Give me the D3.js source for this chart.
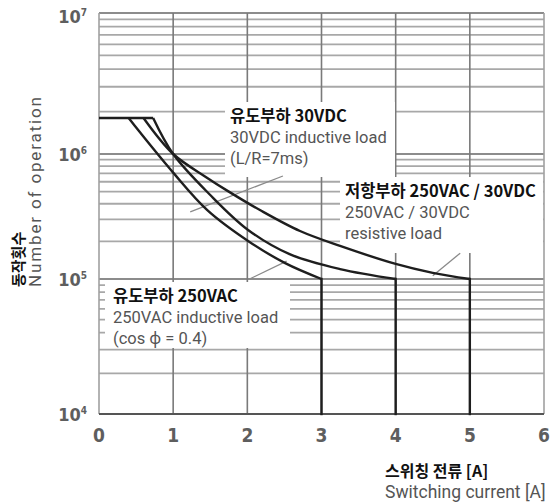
<!DOCTYPE html>
<html>
<head>
<meta charset="utf-8">
<script src="https://cdn.jsdelivr.net/npm/d3@7"></script>
<style>
  body { margin: 0; background: #fff; }
  svg { display: block; }
</style>
</head>
<body>
<div id="chart"></div>
<script>
// x ticks (switching current, A)
const xTicks = [0, 1, 2, 3, 4, 5, 6];
// y decades (number of operations)
const yDecades = [1e4, 1e5, 1e6, 1e7];
const yExponents = ["4", "5", "6", "7"];

// plateau at the top-left, shared by all three curves
const plateauX = [0, 0.73];
const plateauN = 1.8e6;

// 250VAC inductive load (cos phi = 0.4)
const ac250X = [0.4, 0.55, 1.0, 1.46, 2.03, 2.51, 3.0];
const ac250N = [1.8e6, 1.43e6, 7.1e5, 3.56e5, 1.98e5, 1.34e5, 1.0e5];

// 30VDC inductive load (L/R = 7ms)
const dc30X = [0.73, 1.0, 1.5, 2.01, 2.57, 3.25, 4.0];
const dc30N = [1.8e6, 1.0e6, 4.7e5, 2.47e5, 1.58e5, 1.2e5, 1.0e5];

// 250VAC / 30VDC resistive load
const resX = [0.6, 1.0, 1.45, 1.75, 2.17, 2.71, 3.25, 4.0, 4.5, 5.0];
const resN = [1.8e6, 1.0e6, 6.5e5, 5.0e5, 3.56e5, 2.42e5, 1.84e5, 1.32e5, 1.12e5, 1.0e5];

const minN = 1e4;

// leader lines from the labels to the curves, [x, N] pairs
const leaders = [
  [[1.23, 3.44e5], [2.48, 6.67e5]],
  [[2.03, 1.0e5], [2.53, 1.39e5]],
  [[4.5, 1.06e5], [4.87, 1.61e5]],
];

const width = 551;
const height = 503;

const svg = d3.select("#chart").append("svg")
  .attr("width", width)
  .attr("height", height);

const x = d3.scaleLinear().domain([0, 6]).range([99, 544]);
const y = d3.scaleLog().domain(yDecades).range([414, 279, 154, 13]);

// horizontal grid: decades and minor lines 2..9
const minor = [];
yDecades.slice(0, 3).forEach((d) => {
  for (let k = 2; k <= 9; k++) minor.push(d * k);
});

const grid = svg.append("g");

grid.selectAll(".hminor")
  .data(minor)
  .enter()
  .append("line")
  .attr("x1", x(0))
  .attr("x2", x(6))
  .attr("y1", (d) => y(d))
  .attr("y2", (d) => y(d))
  .attr("stroke", "#a8a8a8")
  .attr("stroke-width", 1.8);

grid.selectAll(".hmajor")
  .data(yDecades)
  .enter()
  .append("line")
  .attr("x1", x(0))
  .attr("x2", x(6))
  .attr("y1", (d) => y(d))
  .attr("y2", (d) => y(d))
  .attr("stroke", "#8c8c8c")
  .attr("stroke-width", 1.8);

grid.selectAll(".vline")
  .data(xTicks)
  .enter()
  .append("line")
  .attr("x1", (d) => x(d))
  .attr("x2", (d) => x(d))
  .attr("y1", y(1e7))
  .attr("y2", y(1e4))
  .attr("stroke", (d) => (d === 0 || d === 6 ? "#a0a0a0" : "#7a7a7a"))
  .attr("stroke-width", 1.6);

// bottom axis line
grid.append("line")
  .attr("x1", x(0))
  .attr("x2", x(6))
  .attr("y1", y(1e4))
  .attr("y2", y(1e4))
  .attr("stroke", "#555")
  .attr("stroke-width", 2);

// white label boxes that hide the grid
const boxes = [
  { x: 225, y: 102, w: 170, h: 75 },
  { x: 340, y: 177, w: 203, h: 76 },
  { x: 105, y: 282, w: 185, h: 66 },
];
svg.selectAll(".box")
  .data(boxes)
  .enter()
  .append("rect")
  .attr("x", (d) => d.x)
  .attr("y", (d) => d.y)
  .attr("width", (d) => d.w)
  .attr("height", (d) => d.h)
  .attr("fill", "#fff");

// leader lines
svg.selectAll(".leader")
  .data(leaders)
  .enter()
  .append("line")
  .attr("x1", (d) => x(d[0][0]))
  .attr("y1", (d) => y(d[0][1]))
  .attr("x2", (d) => x(d[1][0]))
  .attr("y2", (d) => y(d[1][1]))
  .attr("stroke", "#8a8a8a")
  .attr("stroke-width", 1.3);

// curves
const line = d3.line()
  .x((d) => x(d[0]))
  .y((d) => y(d[1]))
  .curve(d3.curveCatmullRom.alpha(0.5));

const curves = [
  d3.zip(ac250X, ac250N),
  d3.zip(dc30X, dc30N),
  d3.zip(resX, resN),
];

const curveG = svg.append("g")
  .attr("fill", "none")
  .attr("stroke", "#1e1e1e")
  .attr("stroke-width", 2.4);

curveG.append("path")
  .attr("d", d3.line()([[x(plateauX[0]), y(plateauN)], [x(plateauX[1]), y(plateauN)]]));

curves.forEach((c) => {
  curveG.append("path").attr("d", line(c));
  const last = c[c.length - 1];
  curveG.append("path")
    .attr("stroke-linecap", "square")
    .attr("d", d3.line()([[x(last[0]), y(last[1])], [x(last[0]), y(minN)]]));
});

// x tick labels
svg.selectAll(".xt")
  .data(xTicks)
  .enter()
  .append("text")
  .attr("x", (d) => x(d))
  .attr("y", 442)
  .attr("text-anchor", "middle")
  .attr("font-family", "'DejaVu Sans Condensed', 'DejaVu Sans', sans-serif")
  .attr("font-stretch", "condensed")
  .attr("font-weight", "bold")
  .attr("font-size", 19)
  .attr("fill", "#5e5e5e")
  .text((d) => d);

// y tick labels 10^n
const yt = svg.selectAll(".yt")
  .data(yDecades)
  .enter()
  .append("text")
  .attr("x", 87)
  .attr("y", (d, i) => y(d) + 7 + (i === 3 ? 3 : 0))
  .attr("text-anchor", "end")
  .attr("font-family", "'DejaVu Sans Condensed', 'DejaVu Sans', sans-serif")
  .attr("font-stretch", "condensed")
  .attr("font-weight", "bold")
  .attr("font-size", 18)
  .attr("fill", "#5e5e5e");
yt.append("tspan").text("10");
yt.append("tspan")
  .attr("dy", -7)
  .attr("font-size", 10)
  .text((d, i) => yExponents[i]);

// label texts
const labels = [
  { x: 230, y: 122, title: "유도부하 30VDC", lines: ["30VDC inductive load", "(L/R=7ms)"] },
  { x: 345, y: 197, title: "저항부하 250VAC / 30VDC", lines: ["250VAC / 30VDC", "resistive load"] },
  { x: 113, y: 302, title: "유도부하 250VAC", lines: ["250VAC inductive load", "(cos \u03d5 = 0.4)"] },
];

labels.forEach((l) => {
  svg.append("text")
    .attr("x", l.x)
    .attr("y", l.y)
    .attr("font-family", "'Noto Sans CJK KR', sans-serif")
    .attr("font-weight", "bold")
    .attr("font-size", 16.5)
    .attr("fill", "#111")
    .text(l.title);
  l.lines.forEach((t, i) => {
    svg.append("text")
      .attr("x", l.x)
      .attr("y", l.y + 21 * (i + 1))
      .attr("font-family", "Roboto, 'Noto Sans', sans-serif")
      .attr("font-size", 16.5)
      .attr("fill", "#555")
      .text(t);
  });
});

// y axis titles
svg.append("text")
  .attr("transform", "translate(24,287) rotate(-90)")
  .attr("font-family", "'Noto Sans CJK KR', sans-serif")
  .attr("font-weight", "bold")
  .attr("font-size", 15)
  .attr("fill", "#111")
  .text("동작횟수");

svg.append("text")
  .attr("transform", "translate(41,287) rotate(-90)")
  .attr("font-family", "Roboto, 'Noto Sans', sans-serif")
  .attr("font-size", 17)
  .attr("textLength", 190)
  .attr("lengthAdjust", "spacing")
  .attr("fill", "#555")
  .text("Number of operation");

// x axis titles
svg.append("text")
  .attr("x", 385)
  .attr("y", 477)
  .attr("font-family", "'Noto Sans CJK KR', sans-serif")
  .attr("font-weight", "bold")
  .attr("font-size", 16)
  .attr("fill", "#111")
  .text("스위칭 전류 [A]");

svg.append("text")
  .attr("x", 385)
  .attr("y", 498)
  .attr("font-family", "Roboto, 'Noto Sans', sans-serif")
  .attr("font-size", 17.5)
  .attr("fill", "#555")
  .text("Switching current [A]");
</script>
</body>
</html>
